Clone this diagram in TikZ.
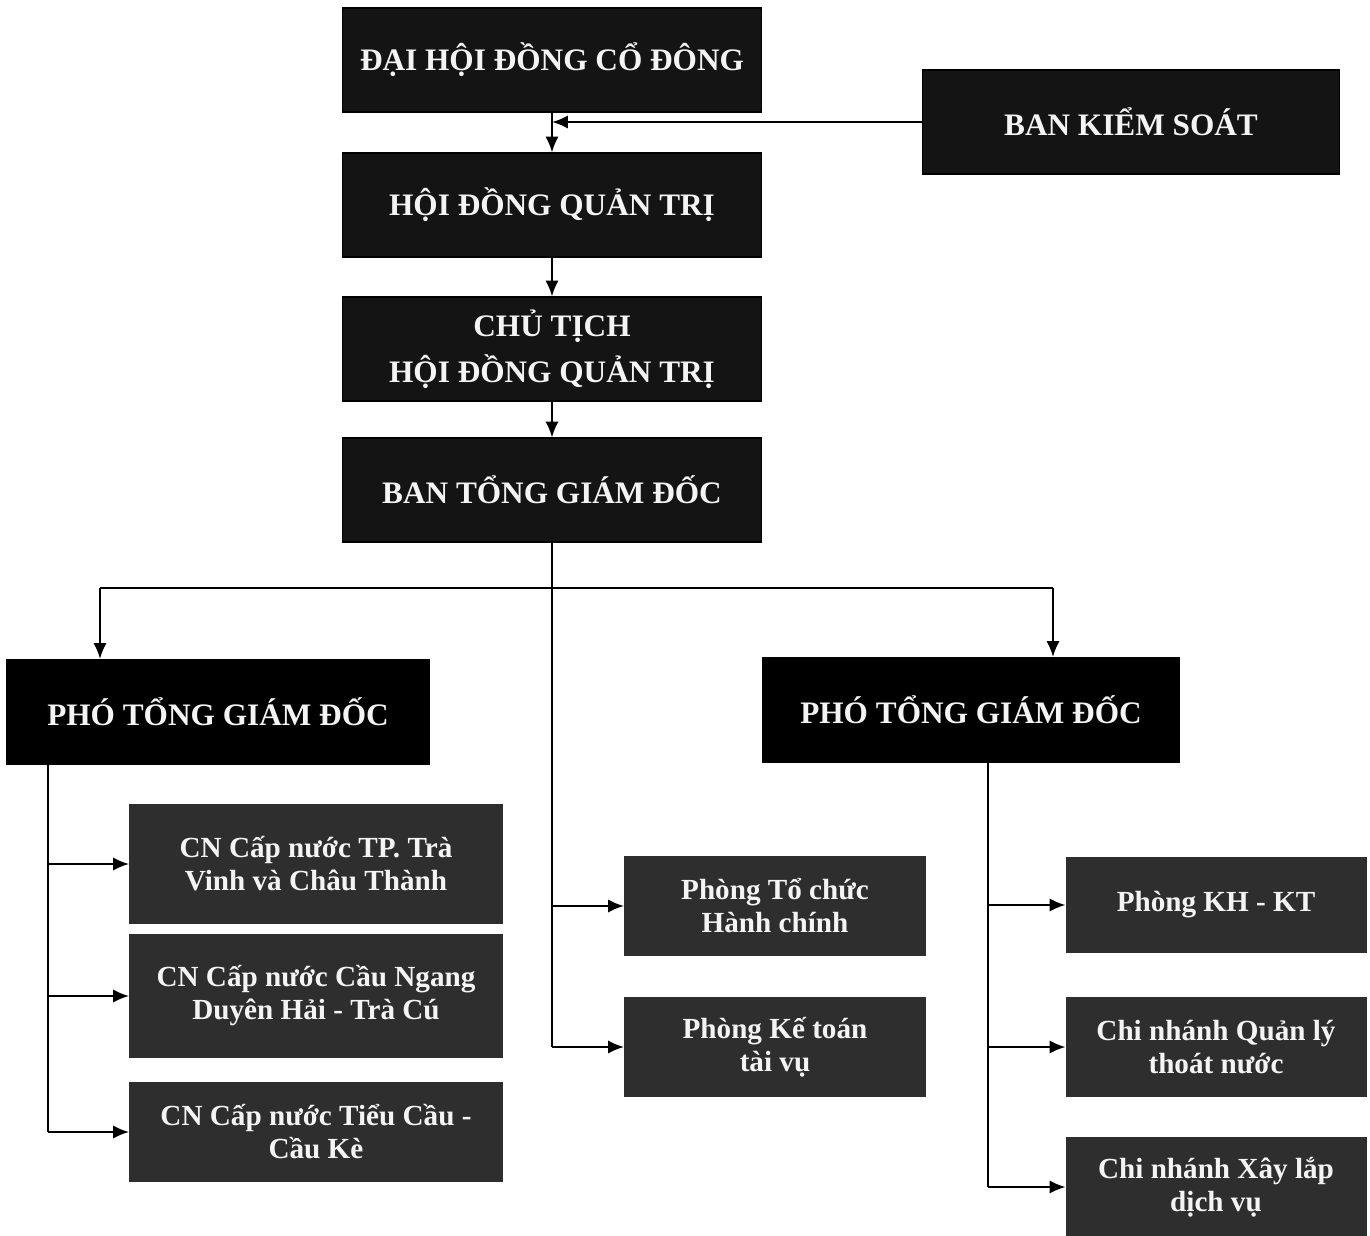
\documentclass[tikz,border=0pt]{standalone}
\usepackage{fontspec}
\setmainfont{Liberation Serif}
\usetikzlibrary{arrows.meta}
\definecolor{boxA}{HTML}{141414}
\definecolor{boxB}{HTML}{2E2E2E}
\definecolor{txt}{HTML}{F4F4F4}
\tikzset{
  topbox/.style={draw=black, line width=0.6pt, fill=boxA, text=txt, inner sep=0pt, align=center,
    font=\fontsize{17.8}{26}\selectfont\bfseries, minimum width=8.4cm, minimum height=2.08cm},
  subbox/.style={draw=boxB, line width=0.6pt, fill=boxB, text=txt, inner sep=0pt, align=center,
    font=\fontsize{16.6}{18.8}\selectfont\bfseries},
  link/.style={draw=black, line width=1.1pt},
  arr/.style={link, -{Latex[length=9pt,width=7.5pt]}}
}
\begin{document}
\begin{tikzpicture}[x=0.02cm, y=-0.02cm]
\useasboundingbox[fill=white] (0,0) rectangle (1370,1236);
% top chain
\node[topbox] (dh) at (552,60) {ĐẠI HỘI ĐỒNG CỔ ĐÔNG};
\node[topbox, minimum width=8.36cm] (bks) at (1131,122) {BAN KIỂM SOÁT};
\node[topbox] (hd) at (552,205) {HỘI ĐỒNG QUẢN TRỊ};
\node[topbox] (ct) at (552,349) {CHỦ TỊCH\\HỘI ĐỒNG QUẢN TRỊ};
\node[topbox] (bt) at (552,490) {BAN TỔNG GIÁM ĐỐC};
% deputies
\node[topbox, fill=black, minimum width=8.48cm, minimum height=2.1cm] (p1) at (218,712) {PHÓ TỔNG GIÁM ĐỐC};
\node[topbox, fill=black, minimum width=8.36cm, minimum height=2.1cm] (p2) at (971,710) {PHÓ TỔNG GIÁM ĐỐC};
% left branches
\node[subbox, minimum width=7.46cm, minimum height=2.38cm] (c1) at (316,864) {CN Cấp nước TP. Trà\\Vinh và Châu Thành};
\node[subbox, minimum width=7.46cm, minimum height=2.44cm] (c2) at (316,996) {CN Cấp nước Cầu Ngang\\Duyên Hải - Trà Cú};
\node[subbox, minimum width=7.46cm, minimum height=1.96cm] (c3) at (316,1132) {CN Cấp nước Tiểu Cầu -\\Cầu Kè};
% middle branches
\node[subbox, minimum width=6.02cm, minimum height=1.96cm] (k1) at (775,906) {Phòng Tổ chức\\Hành chính};
\node[subbox, minimum width=6.02cm, minimum height=1.98cm] (k2) at (775,1047) {Phòng Kế toán\\tài vụ};
% right branches
\node[subbox, minimum width=6.0cm, minimum height=1.9cm] (r1) at (1216,905) {Phòng KH - KT};
\node[subbox, minimum width=6.0cm, minimum height=1.96cm] (r2) at (1216,1047) {Chi nhánh Quản lý\\thoát nước};
\node[subbox, minimum width=6.0cm, minimum height=1.96cm] (r3) at (1216,1187) {Chi nhánh Xây lắp\\dịch vụ};
% top connectors
\draw[arr] (dh) -- (hd);
\draw[arr] (bks.west) -- (bks.west -| dh.south);
\draw[arr] (hd) -- (ct);
\draw[arr] (ct) -- (bt);
% bus to deputies
\coordinate (bl) at (100,588);
\coordinate (br) at (1053,588);
\draw[link] (bl) -- (br);
\draw[arr] (bl) -- (bl |- p1.north);
\draw[arr] (br) -- (br |- p2.north);
% middle trunk
\draw[link] (bt.south) -- (bt.south |- k2.west);
\draw[arr] (bt.south |- k1.west) -- (k1.west);
\draw[arr] (bt.south |- k2.west) -- (k2.west);
% left trunk
\coordinate (lv) at (48,765);
\draw[link] (lv) -- (lv |- c3.west);
\draw[arr] (lv |- c1.west) -- (c1.west);
\draw[arr] (lv |- c2.west) -- (c2.west);
\draw[arr] (lv |- c3.west) -- (c3.west);
% right trunk
\coordinate (rv) at (988,762);
\draw[link] (rv) -- (rv |- r3.west);
\draw[arr] (rv |- r1.west) -- (r1.west);
\draw[arr] (rv |- r2.west) -- (r2.west);
\draw[arr] (rv |- r3.west) -- (r3.west);
\end{tikzpicture}
\end{document}
